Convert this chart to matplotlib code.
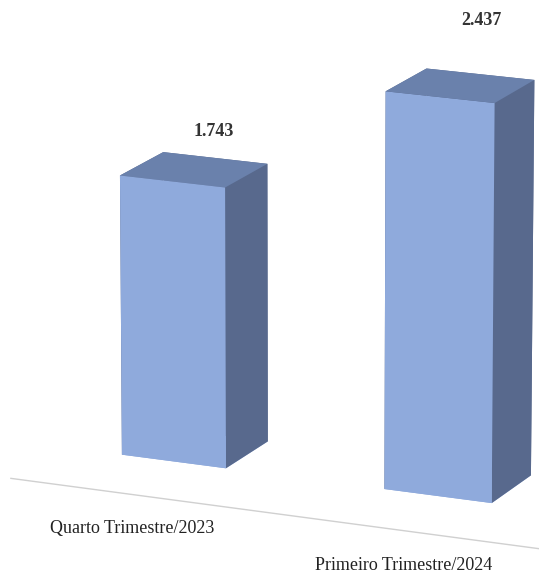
import matplotlib
matplotlib.use("Agg")
import matplotlib.pyplot as plt
import numpy as np

# data
categories = ["Quarto Trimestre/2023", "Primeiro Trimestre/2024"]
values = [1743, 2437]
value_labels = ["1.743", "2.437"]

front_color = "#8FAADC"
top_color = "#6A81AC"
side_color = "#58698D"

fig = plt.figure(figsize=(5.39, 5.72), dpi=100)
ax = fig.add_axes([0.052, 0.003, 1.0, 1.0], projection="3d")
ax.set_proj_type("persp", focal_length=2.5)
ax.view_init(elev=15.5, azim=-66)

xpos = np.arange(len(values)) - 0.2
bar_w = 0.4
bar_d = 0.37

# face order in bar3d: -z, +z, -y, +y, -x, +x
face_cols = []
for _ in values:
    face_cols += [front_color, top_color, front_color, side_color, side_color, side_color]

ax.bar3d(xpos, np.zeros(len(values)), np.zeros(len(values)),
         bar_w, bar_d, values, color=face_cols, shade=False,
         linewidth=0, edgecolor="none")

# floor line in front of the bars
ax.plot([-0.43, 1.9], [-0.43, -0.43], [0, 0], color="#d0d0d0", linewidth=1,
        clip_on=False)

for i, v in enumerate(values):
    ax.text(i + 0.07, 0.2, 1.22 * v - 139, value_labels[i], ha="center", va="center",
            fontsize=13, fontweight="bold", family="Liberation Serif", color="#333333")
    ax.text(i + 0.2, -0.8, 0, categories[i], ha="center", va="center",
            fontsize=13, family="Liberation Serif", color="#222222")

ax.set_xlim(-0.6, 1.6)
ax.set_ylim(-0.5, 0.5)
ax.set_zlim(0, 2500)
ax.set_box_aspect((1.52, 0.66, 1), zoom=1.47)
ax.set_axis_off()

plt.savefig("out.png", dpi=100)
